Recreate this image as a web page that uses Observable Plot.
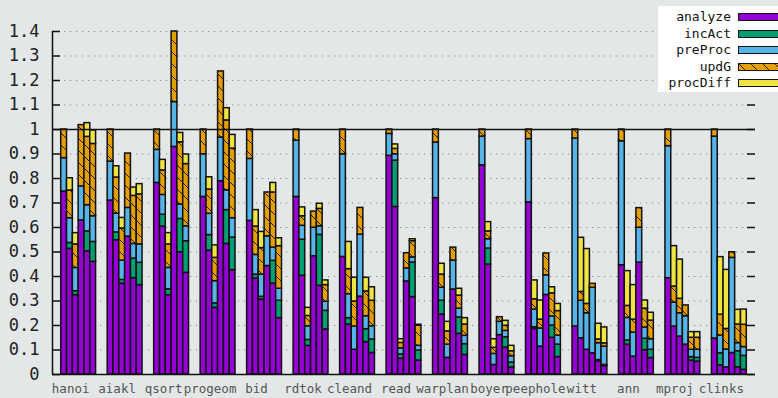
<!DOCTYPE html>
<html>
<head>
<meta charset="utf-8">
<script src="https://cdn.jsdelivr.net/npm/d3@7"></script>
<script src="https://cdn.jsdelivr.net/npm/@observablehq/plot@0.6"></script>
<style>
  html, body { margin: 0; padding: 0; background: #e4e7e8; }
  #chart { position: relative; width: 778px; height: 398px; overflow: hidden; }
  #key {
    position: absolute; left: 658px; top: 6px; width: 120px; height: 86px;
    background: #ffffff; font: 13px "DejaVu Sans Mono", monospace; color: #111;
  }
  #key .row { position: absolute; left: 0; width: 120px; height: 16px; }
  #key .label { position: absolute; right: 47px; top: 0; line-height: 16px; white-space: pre; }
  #key svg { position: absolute; left: 80px; top: 4px; overflow: visible; }
</style>
</head>
<body>
<div id="chart"><div id="key"></div></div>
<script>
// Benchmarks, six configurations each (stacked time fractions).
const benchmarks = ["hanoi", "aiakl", "qsort", "progeom", "bid", "rdtok", "cleand", "read",
                    "warplan", "boyer", "peephole", "witt", "ann", "mproj", "clinks"];

const seriesNames = ["analyze", "incAct", "preProc", "updG", "procDiff"];

const analyze = [
  [0.747, 0.513, 0.324, 0.629, 0.503, 0.460],
  [0.710, 0.548, 0.371, 0.563, 0.393, 0.365],
  [0.782, 0.604, 0.324, 0.929, 0.499, 0.415],
  [0.725, 0.506, 0.272, 0.789, 0.533, 0.426],
  [0.627, 0.392, 0.306, 0.443, 0.371, 0.230],
  [0.725, 0.403, 0.117, 0.483, 0.362, 0.184],
  [0.480, 0.204, 0.101, 0.318, 0.132, 0.088],
  [0.893, 0.684, 0.065, 0.380, 0.316, 0.057],
  [0.720, 0.245, 0.068, 0.347, 0.166, 0.080],
  [0.854, 0.449, 0.039, 0.161, 0.110, 0.029],
  [0.703, 0.186, 0.114, 0.325, 0.150, 0.071],
  [0.196, 0.148, 0.101, 0.087, 0.054, 0.034],
  [0.446, 0.122, 0.073, 0.457, 0.099, 0.067],
  [0.393, 0.196, 0.155, 0.122, 0.057, 0.053],
  [0.147, 0.037, 0.029, 0.088, 0.029, 0.019]
];

const incAct = [
  [0, 0.024, 0.016, 0, 0.081, 0.081],
  [0, 0.032, 0.015, 0, 0.080, 0.091],
  [0, 0.048, 0.024, 0, 0.136, 0.129],
  [0, 0.063, 0.018, 0, 0.138, 0.133],
  [0, 0.016, 0.011, 0, 0.093, 0.071],
  [0, 0.147, 0.024, 0, 0.208, 0.076],
  [0, 0.026, 0, 0, 0.053, 0.055],
  [0, 0.189, 0.017, 0, 0.141, 0.041],
  [0, 0.056, 0, 0, 0.067, 0.044],
  [0, 0.065, 0, 0, 0.042, 0.020],
  [0, 0.007, 0, 0, 0.050, 0.051],
  [0, 0, 0, 0, 0.005, 0.005],
  [0, 0.017, 0, 0, 0.047, 0.034],
  [0, 0, 0, 0, 0.014, 0.015],
  [0, 0.050, 0, 0, 0.066, 0.057]
];

const preProc = [
  [0.136, 0.101, 0.095, 0.139, 0.107, 0.105],
  [0.159, 0.077, 0.079, 0.117, 0.060, 0.075],
  [0.135, 0.081, 0.087, 0.183, 0.059, 0.061],
  [0.174, 0.087, 0.091, 0.178, 0.081, 0.079],
  [0.253, 0.080, 0.091, 0.121, 0.054, 0.049],
  [0.229, 0.057, 0.056, 0.116, 0.035, 0.037],
  [0.419, 0.098, 0.095, 0.253, 0.053, 0.054],
  [0.089, 0.026, 0.025, 0.053, 0.021, 0.019],
  [0.227, 0.053, 0.054, 0.118, 0.036, 0.034],
  [0.117, 0.038, 0.045, 0.054, 0.026, 0.026],
  [0.258, 0.072, 0.074, 0.080, 0.037, 0.037],
  [0.767, 0.153, 0.149, 0.267, 0.069, 0.075],
  [0.506, 0.092, 0.098, 0.142, 0.046, 0.043],
  [0.539, 0.098, 0.095, 0.116, 0.030, 0.033],
  [0.824, 0.072, 0.073, 0.388, 0.033, 0.036]
];

const updG = [
  [0.117, 0.113, 0.096, 0.250, 0.279, 0.295],
  [0.131, 0.147, 0.131, 0.222, 0.196, 0.204],
  [0.083, 0.100, 0.096, 0.288, 0.254, 0.254],
  [0.101, 0.099, 0.095, 0.270, 0.285, 0.284],
  [0.120, 0.116, 0.108, 0.179, 0.225, 0.174],
  [0.046, 0.039, 0.042, 0.066, 0.071, 0.068],
  [0.101, 0.102, 0.102, 0.109, 0.101, 0.104],
  [0.018, 0.022, 0.022, 0.062, 0.066, 0.082],
  [0.053, 0.054, 0.054, 0.053, 0.053, 0.046],
  [0.029, 0.032, 0.025, 0.019, 0.021, 0.020],
  [0.039, 0.042, 0.036, 0.089, 0.094, 0.100],
  [0.037, 0.036, 0.038, 0.016, 0.015, 0.013],
  [0.048, 0.049, 0.053, 0.080, 0.077, 0.076],
  [0.068, 0.065, 0.059, 0.044, 0.049, 0.049],
  [0.029, 0.085, 0.084, 0.023, 0.076, 0.091]
];

const procDiff = [
  [0, 0.050, 0.046, 0, 0.056, 0.055],
  [0, 0.046, 0.043, 0, 0.034, 0.042],
  [0, 0.043, 0.046, 0, 0.038, 0.039],
  [0, 0.050, 0.051, 0, 0.050, 0.056],
  [0, 0.067, 0.066, 0, 0.039, 0.032],
  [0, 0.036, 0.033, 0, 0.021, 0.019],
  [0, 0.111, 0.097, 0, 0.056, 0.055],
  [0, 0.018, 0.015, 0, 0.008, 0.004],
  [0, 0.044, 0.039, 0, 0.028, 0.026],
  [0, 0.038, 0.035, 0, 0.020, 0.022],
  [0, 0.077, 0.078, 0, 0.025, 0.029],
  [0, 0.221, 0.224, 0, 0.064, 0.065],
  [0, 0.142, 0.141, 0, 0.033, 0.032],
  [0, 0.165, 0.160, 0, 0.023, 0.023],
  [0, 0.235, 0.241, 0, 0.060, 0.062]
];

const yTicks = [0, 0.1, 0.2, 0.3, 0.4, 0.5, 0.6, 0.7, 0.8, 0.9, 1, 1.1, 1.2, 1.3, 1.4];

// Fill for each series; updG uses a hatched pattern defined below.
const seriesFills = ["#9400d3", "#009e73", "#56b4e9", "url(#hatch-updG)", "#f0e442"];

// Layout of the clustered histogram: 6 bars per group, 2 empty slots between groups.
const barsPerGroup = 6;
const slotsPerGroup = barsPerGroup + 2;
const seriesData = [analyze, incAct, preProc, updG, procDiff];

const rows = [];
benchmarks.forEach((name, g) => {
  for (let k = 0; k < barsPerGroup; ++k) {
    const slot = g * slotsPerGroup + k;
    seriesNames.forEach((s, i) => {
      const value = seriesData[i][g][k];
      if (value > 0) rows.push({benchmark: name, bar: k, series: s, value, x1: slot, x2: slot + 1});
    });
  }
});

const xDomain = [-1.5, (benchmarks.length - 1) * slotsPerGroup + barsPerGroup + 1.5];
const groupCenters = benchmarks.map((_, g) => g * slotsPerGroup + barsPerGroup / 2);

const W = 778, H = 398, mL = 52, mR = 23, mT = 31, mB = 24;
const frameW = W - mL - mR;
const tickLen = 8;

const chart = Plot.plot({
  width: W,
  height: H,
  marginLeft: mL,
  marginRight: mR,
  marginTop: mT,
  marginBottom: mB,
  style: {background: "transparent", fontFamily: "'DejaVu Sans Mono', monospace"},
  x: {type: "linear", domain: xDomain, axis: null},
  y: {domain: [0, 1.4], axis: null},
  color: {type: "ordinal", domain: seriesNames, range: seriesFills},
  marks: [
    Plot.gridY(yTicks.filter(d => d > 0 && d !== 1), {stroke: "#8a8c8d", strokeOpacity: 1, strokeWidth: 1.2, strokeDasharray: "1.2,4.8"}),
    Plot.rectY(rows, {x1: "x1", x2: "x2", y: "value", fill: "series", stroke: "#111", strokeWidth: 1.5}),
    Plot.ruleY([0, 1], {stroke: "#111", strokeWidth: 1.5}),
    Plot.ruleX([xDomain[0]], {stroke: "#111", strokeWidth: 1.5}),
    Plot.ruleY(yTicks, {stroke: "#111", strokeWidth: 1.5, insetRight: frameW - tickLen}),
    Plot.ruleY(yTicks, {stroke: "#111", strokeWidth: 1.5, insetLeft: frameW - tickLen}),
    Plot.axisY(yTicks, {anchor: "left", label: null, tickSize: 0, tickPadding: 13, fontSize: 17, fill: "#222",
                        tickFormat: d => String(d)}),
    Plot.axisX(groupCenters, {anchor: "bottom", label: null, tickSize: 0, tickPadding: 10, fontSize: 12.5, fill: "#555",
                              dx: -8, tickFormat: (d, i) => benchmarks[i]})
  ]
});

// Hatched fill for the updG segments.
const defs = d3.select(chart).insert("defs", ":first-child");
const pat = defs.append("pattern")
  .attr("id", "hatch-updG")
  .attr("patternUnits", "userSpaceOnUse")
  .attr("width", 12)
  .attr("height", 12);
pat.append("rect").attr("width", 12).attr("height", 12).attr("fill", "#e69f00");
pat.append("path")
  .attr("d", "M0,0L12,12M-3,9L3,15M9,-3L15,3")
  .attr("stroke", "#111")
  .attr("stroke-width", 0.9)
  .attr("fill", "none");

document.getElementById("chart").prepend(chart);
chart.style.position = "absolute";
chart.style.left = "0";
chart.style.top = "0";

// Key in the upper right corner.
const key = d3.select("#key");
const rowTop = [3, 19.5, 36, 52.5, 69];
seriesNames.forEach((s, i) => {
  const row = key.append("div").attr("class", "row").style("top", rowTop[i] + "px");
  row.append("span").attr("class", "label").text(s);
  const sw = row.append("svg").attr("width", 42).attr("height", 9);
  sw.append("rect")
    .attr("x", 0.5).attr("y", 0.5).attr("width", 44).attr("height", 7)
    .attr("fill", seriesFills[i]).attr("stroke", "#111").attr("stroke-width", 1);
});
</script>
</body>
</html>
